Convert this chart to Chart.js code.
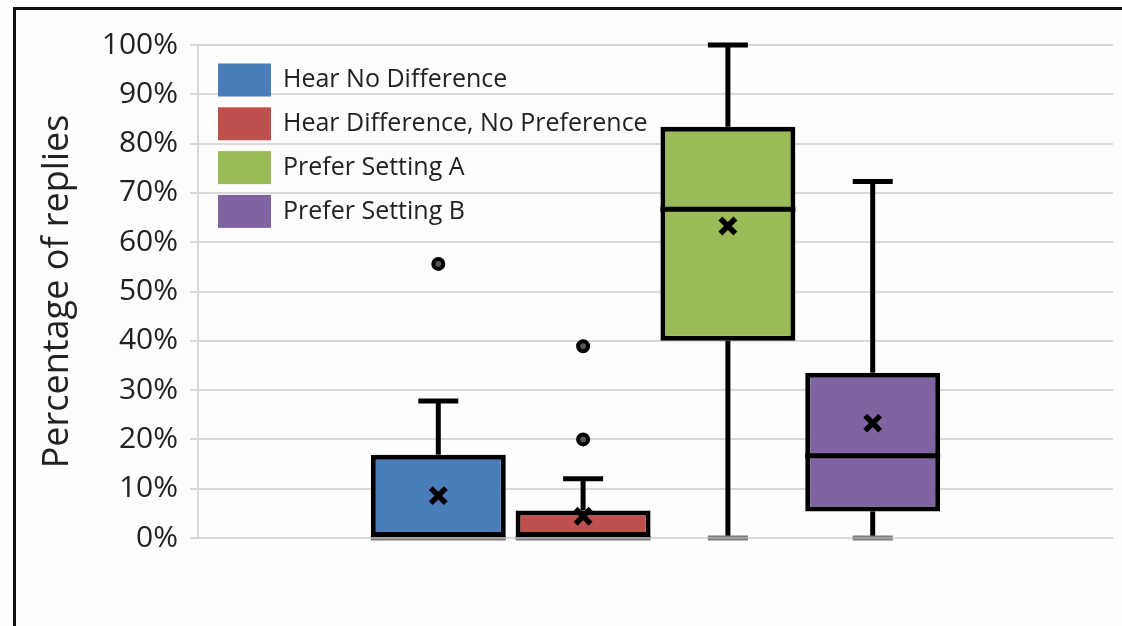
<!DOCTYPE html>
<html>
<head>
<meta charset="utf-8">
<title>Percentage of replies</title>
<script src="https://cdn.jsdelivr.net/npm/chart.js@4.4.1/dist/chart.umd.min.js"></script>
<style>
  html, body { margin: 0; padding: 0; background: #fdfdfd; }
  #wrap { position: relative; width: 1122px; height: 626px; overflow: hidden; }
  #frame { position: absolute; left: 13px; top: 7px; right: -10px; bottom: -10px;
    border-top: 3px solid #111; border-left: 3px solid #111; pointer-events: none; }
</style>
</head>
<body>
<div id="wrap">
  <canvas id="chart"></canvas>
  <div id="frame"></div>
</div>
<script>
// box plot data (percent of replies)
const seriesLabels = ['Hear No Difference', 'Hear Difference, No Preference', 'Prefer Setting A', 'Prefer Setting B'];
const boxColors = ['#4a7ebb', '#c0504d', '#9bbb59', '#8064a2'];
const minVals = [0, 0, 0, 0];
const q1Vals = [0, 0, 40, 5.4];
const medianVals = [0, 0, 66.7, 16.7];
const q3Vals = [16.9, 5.6, 83.4, 33.5];
const maxVals = [27.8, 12, 100, 72.3];
const meanVals = [8.6, 4.4, 63.3, 23.3];
const outlierVals = [[55.6], [38.9, 20], [], []];
const yMin = 0, yMax = 100, yStep = 10;

const FONT = '"Open Sans", "Noto Sans", sans-serif';

// whiskers, caps, medians, means and outliers drawn from the scales
const boxExtras = {
  id: 'boxExtras',
  beforeDatasetsDraw(chart) {
    const { ctx } = chart;
    const y = chart.scales.y;
    ctx.save();
    chart.data.datasets.forEach((ds, i) => {
      const bar = chart.getDatasetMeta(i).data[0];
      if (!bar) return;
      const x = bar.x;
      const capW = 40;
      // upper whisker
      ctx.strokeStyle = '#000';
      ctx.lineWidth = 5;
      ctx.beginPath();
      ctx.moveTo(x, y.getPixelForValue(q3Vals[i]));
      ctx.lineTo(x, y.getPixelForValue(maxVals[i]));
      ctx.stroke();
      ctx.beginPath();
      ctx.moveTo(x - capW / 2, y.getPixelForValue(maxVals[i]));
      ctx.lineTo(x + capW / 2, y.getPixelForValue(maxVals[i]));
      ctx.stroke();
      // lower whisker
      if (q1Vals[i] > minVals[i]) {
        ctx.beginPath();
        ctx.moveTo(x, y.getPixelForValue(q1Vals[i]));
        ctx.lineTo(x, y.getPixelForValue(minVals[i]));
        ctx.stroke();
      }
      const yb = y.getPixelForValue(minVals[i]);
      const w = q1Vals[i] > minVals[i] ? capW : bar.width;
      ctx.strokeStyle = '#7a7a7a';
      ctx.lineWidth = 5;
      ctx.beginPath();
      ctx.moveTo(x - w / 2, yb);
      ctx.lineTo(x + w / 2, yb);
      ctx.stroke();
      ctx.strokeStyle = '#c8c8c8';
      ctx.lineWidth = 1;
      ctx.beginPath();
      ctx.moveTo(x - w / 2, yb);
      ctx.lineTo(x + w / 2, yb);
      ctx.stroke();
    });
    ctx.restore();
  },
  afterDatasetsDraw(chart) {
    const { ctx } = chart;
    const y = chart.scales.y;
    ctx.save();
    chart.data.datasets.forEach((ds, i) => {
      const bar = chart.getDatasetMeta(i).data[0];
      if (!bar) return;
      const x = bar.x;
      // median
      if (medianVals[i] > q1Vals[i]) {
        const ym = y.getPixelForValue(medianVals[i]);
        ctx.strokeStyle = '#000';
        ctx.lineWidth = 5;
        ctx.beginPath();
        ctx.moveTo(x - bar.width / 2, ym);
        ctx.lineTo(x + bar.width / 2, ym);
        ctx.stroke();
      }
      // mean marker
      const yc = y.getPixelForValue(meanVals[i]);
      const s = 7.5;
      ctx.strokeStyle = '#000';
      ctx.lineWidth = 5.5;
      ctx.lineCap = 'butt';
      ctx.beginPath();
      ctx.moveTo(x - s, yc - s); ctx.lineTo(x + s, yc + s);
      ctx.moveTo(x + s, yc - s); ctx.lineTo(x - s, yc + s);
      ctx.stroke();
      // outliers
      outlierVals[i].forEach((v) => {
        const yo = y.getPixelForValue(v);
        ctx.beginPath();
        ctx.arc(x, yo, 5, 0, Math.PI * 2);
        ctx.fillStyle = '#555';
        ctx.fill();
        ctx.lineWidth = 4;
        ctx.strokeStyle = '#000';
        ctx.stroke();
      });
    });
    ctx.restore();
  },
  afterDraw(chart) {
    // legend in the top left of the plot area
    const { ctx, chartArea } = chart;
    ctx.save();
    ctx.font = '25px ' + FONT;
    ctx.textBaseline = 'middle';
    chart.data.datasets.forEach((ds, i) => {
      const bx = chartArea.left + 20;
      const by = chartArea.top + 18.5 + i * 43.8;
      ctx.fillStyle = ds.backgroundColor;
      ctx.fillRect(bx, by, 53, 33);
      ctx.fillStyle = '#222';
      ctx.fillText(ds.label, bx + 65, by + 16.5);
    });
    ctx.restore();
  },
};

new Chart(document.getElementById('chart'), {
  type: 'bar',
  data: {
    labels: [''],
    datasets: seriesLabels.map((label, i) => ({
      label,
      data: [[q1Vals[i], q3Vals[i]]],
      backgroundColor: boxColors[i],
      borderColor: '#000',
      borderWidth: 5,
      borderSkipped: false,
      categoryPercentage: 0.633,
      barPercentage: 0.932,
    })),
  },
  options: {
    responsive: true,
    maintainAspectRatio: false,
    animation: false,
    layout: { padding: { left: 14, top: 45, right: 9, bottom: 88 } },
    plugins: { legend: { display: false }, tooltip: { enabled: false } },
    scales: {
      x: { display: false },
      y: {
        min: yMin, max: yMax,
        afterFit: (scale) => { scale.width = 184; },
        ticks: {
          stepSize: yStep,
          padding: 12,
          color: '#222',
          font: { family: FONT, size: 30 },
          callback: (v) => v + '%',
        },
        grid: { color: '#d9d9d9', lineWidth: 2, tickLength: 8 },
        border: { color: '#d9d9d9', width: 2 },
        title: {
          display: true,
          text: 'Percentage of replies',
          color: '#222',
          font: { family: FONT, size: 36 },
          padding: { top: 22, bottom: 0 },
        },
      },
    },
  },
  plugins: [boxExtras],
});
</script>
</body>
</html>
